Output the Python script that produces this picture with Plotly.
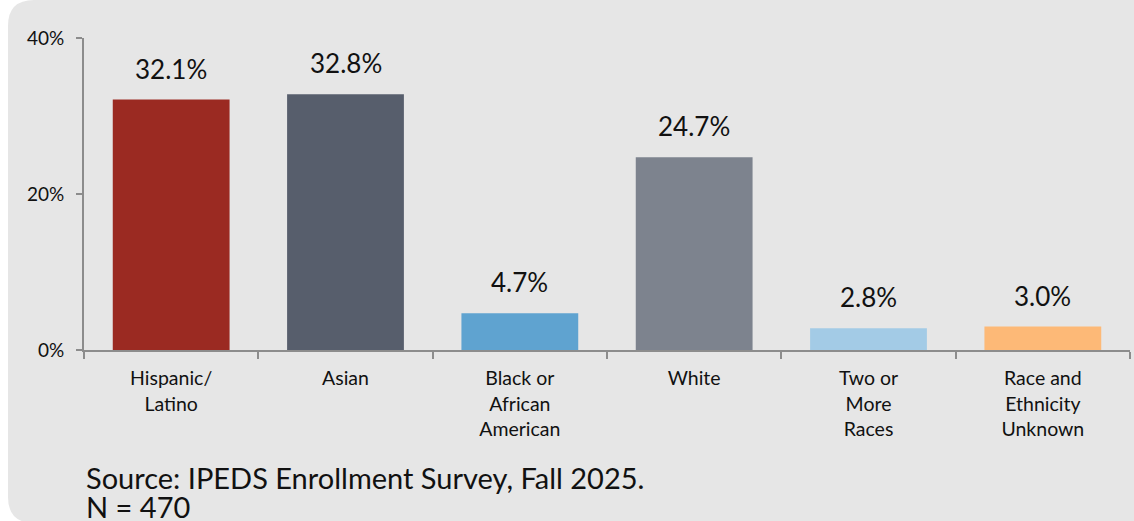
import plotly.graph_objects as go

categories = ["Hispanic/<br>Latino", "Asian", "Black or<br>African<br>American", "White",
              "Two or<br>More<br>Races", "Race and<br>Ethnicity<br>Unknown"]
shares = [32.1, 32.8, 4.7, 24.7, 2.8, 3.0]
bar_colors = ["#9b2a22", "#575e6c", "#5fa3d0", "#7d838e", "#a3cbe6", "#fdb977"]
y_ticks = [0, 20, 40]
y_tick_text = ["0%", "20%", "40%"]
source_line = "Source: IPEDS Enrollment Survey, Fall 2025."
n_line = "N = 470"

FONT = "Lato"
AXIS = "#8c8c8c"

fig = go.Figure(go.Bar(
    x=categories, y=shares,
    marker=dict(color=bar_colors, line=dict(width=0)),
    width=0.67, hoverinfo="x+y",
))

# value labels sit a little above each bar
for c, v in zip(categories, shares):
    fig.add_annotation(x=c, y=v, text=f"{v:.1f}%", showarrow=False,
                       yanchor="bottom", yshift=13,
                       font=dict(size=26, color="#111111", family=FONT))

# rounded grey card behind the chart (plot area = 84..1130 x 38..350 px)
L, R, T, B = 84, 1130, 38, 350
W, H = R - L, B - T
def px(x): return (x - L) / W
def py(y): return (B - y) / H
x0, x1, y0, y1, r = 8, 1136, 0, 523, 26
path = (f"M {px(x0 + r)},{py(y0)} L {px(x1)},{py(y0)} L {px(x1)},{py(y1)} "
        f"L {px(x0 + r)},{py(y1)} Q {px(x0)},{py(y1)} {px(x0)},{py(y1 - r)} "
        f"L {px(x0)},{py(y0 + r)} Q {px(x0)},{py(y0)} {px(x0 + r)},{py(y0)} Z")
fig.add_shape(type="path", path=path, xref="paper", yref="paper",
              fillcolor="#e6e6e6", line=dict(width=0), layer="below")

fig.add_annotation(text=source_line, xref="paper", yref="paper",
                   x=px(84), y=py(478), xanchor="left", yanchor="middle",
                   showarrow=False, font=dict(size=29, color="#111111", family=FONT))
fig.add_annotation(text=n_line, xref="paper", yref="paper",
                   x=px(84), y=py(506), xanchor="left", yanchor="middle",
                   showarrow=False, font=dict(size=29, color="#111111", family=FONT))

fig.update_layout(
    width=1134, height=521,
    margin=dict(l=L, r=1134 - R, t=T, b=521 - B),
    paper_bgcolor="white", plot_bgcolor="rgba(0,0,0,0)",
    showlegend=False, bargap=0.33,
    font=dict(family=FONT, color="#111111"),
)
fig.update_xaxes(showline=True, linecolor=AXIS, linewidth=2,
                 ticks="outside", tickson="boundaries", ticklen=7, tickcolor=AXIS, tickwidth=2,
                 ticklabelstandoff=10,
                 tickfont=dict(size=19.5, color="#111111", family=FONT), showgrid=False)
fig.update_yaxes(range=[0, 40], tickvals=y_ticks, ticktext=y_tick_text,
                 showline=True, linecolor=AXIS, linewidth=2,
                 ticks="outside", ticklen=6, tickcolor=AXIS, tickwidth=2, ticklabelstandoff=8,
                 tickfont=dict(size=19, color="#111111", family=FONT),
                 showgrid=False, zeroline=False)

fig.write_html("out.html", config={"displayModeBar": False},
               post_script="document.body.style.margin='0';")
